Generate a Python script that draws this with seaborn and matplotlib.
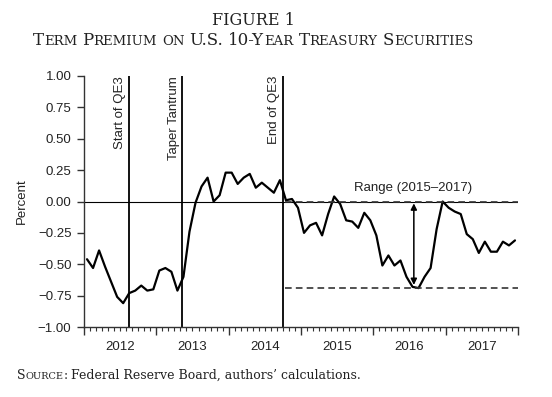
import numpy as np
import pandas as pd
import matplotlib
matplotlib.use('Agg')
import matplotlib.pyplot as plt
import seaborn as sns

# Monthly term premium, Jan 2012 - Dec 2017 (percent)
years = [2012, 2013, 2014, 2015, 2016, 2017]
premium = [
    -0.46, -0.53, -0.39, -0.52, -0.64, -0.76, -0.81, -0.73, -0.71, -0.67, -0.71, -0.70,
    -0.55, -0.53, -0.56, -0.71, -0.60, -0.24, -0.01, 0.12, 0.19, 0.00, 0.05, 0.23,
    0.23, 0.14, 0.19, 0.22, 0.11, 0.15, 0.11, 0.07, 0.17, 0.01, 0.02, -0.05,
    -0.25, -0.19, -0.17, -0.27, -0.10, 0.04, -0.02, -0.15, -0.16, -0.21, -0.09, -0.15,
    -0.27, -0.51, -0.43, -0.51, -0.47, -0.60, -0.68, -0.69, -0.60, -0.53, -0.22, 0.00,
    -0.05, -0.08, -0.10, -0.26, -0.30, -0.41, -0.32, -0.40, -0.40, -0.32, -0.35, -0.31,
]
events = ['Start of QE3', 'Taper Tantrum', 'End of QE3']
event_dates = [2012.62, 2013.36, 2014.75]
range_top = 0.0
range_bottom = -0.69
range_start = 2014.78
range_label = 'Range (2015\u20132017)'
yticks = [1.0, 0.75, 0.5, 0.25, 0.0, -0.25, -0.5, -0.75, -1.0]
ytick_labels = ['1.00', '0.75', '0.50', '0.25', '0.00',
                '\u22120.25', '\u22120.50', '\u22120.75', '\u22121.00']

df = pd.DataFrame({'date': years[0] + (np.arange(len(premium)) + 0.5) / 12,
                   'premium': premium})

W, H, DPI = 552, 397, 100
SERIF = 'DejaVu Serif'

sns.set_style('ticks')
plt.rcParams['font.family'] = ['Liberation Sans', 'DejaVu Sans']


def sc_runs(text, big, small):
    # fake small caps: lowercase letters become smaller capitals
    runs = []
    for ch in text:
        if ch == ' ':
            kind, size = 'sp', big
        elif ch.islower():
            kind, size = 'sm', small
        else:
            kind, size = 'bg', big
        if runs and runs[-1][2] == kind and kind != 'sp':
            runs[-1][0] += ch.upper()
        else:
            runs.append([ch.upper() if kind != 'sp' else ' ', size, kind])
    return runs


def place_runs(fig, runs, x_px, y_px, ha='center'):
    r = fig.canvas.get_renderer()
    items = []
    for s, size, kind in runs:
        if kind == 'sp':
            items.append((None, size * DPI / 72 * 0.3))
        else:
            t = fig.text(0, 0, s, fontsize=size, family=SERIF, va='baseline',
                         ha='left', color='#222222')
            items.append((t, t.get_window_extent(r).width))
    total = sum(w for _, w in items)
    x = x_px - total / 2 if ha == 'center' else x_px
    for t, w in items:
        if t is not None:
            t.set_position((x / W, 1 - y_px / H))
        x += w


fig = plt.figure(figsize=(W / DPI, H / DPI), dpi=DPI)
ax = fig.add_axes([84 / W, 1 - 327 / H, 434 / W, 251 / H])

sns.lineplot(data=df, x='date', y='premium', ax=ax, color='black', lw=1.6)

ax.axhline(0, color='black', lw=0.8, zorder=1)
for name, d in zip(events, event_dates):
    ax.axvline(d, color='black', lw=1.3)
    ax.annotate(name, xy=(d, 1.0), xycoords=('data', 'axes fraction'),
                xytext=(-2, 0), textcoords='offset points',
                rotation=90, ha='right', va='top', fontsize=9.5, color='#222222')

ax.hlines([range_top, range_bottom], range_start, 2018.0, colors='#333333',
          linestyles=(0, (4, 2.5)), lw=1.2)
ax.annotate('', xy=(2016.56, -0.665), xytext=(2016.56, -0.015),
            arrowprops=dict(arrowstyle='<|-|>', color='black', lw=1.1,
                            mutation_scale=9, shrinkA=0, shrinkB=0))
ax.text(2016.55, 0.11, range_label, ha='center', va='center', fontsize=9.5,
        color='#222222')

ax.set_xlim(2012, 2018)
ax.set_ylim(-1, 1)
ax.set_yticks(yticks, ytick_labels)
ax.set_xticks(np.arange(2012, 2019), [''] * 7)
months = np.arange(2012, 2018, 1 / 12)
mlabels = [str(int(m)) if abs(m - int(m) - 0.5) < 1e-6 else '' for m in months]
ax.set_xticks(months, mlabels, minor=True)
ax.tick_params(axis='x', which='major', length=6, width=1.0, color='#333333')
ax.tick_params(axis='x', which='minor', length=3, width=0.8, color='#333333',
               pad=7, labelsize=9.5, labelcolor='#222222')
ax.tick_params(axis='y', length=5, width=1.0, color='#333333', pad=4,
               labelsize=9.5, labelcolor='#222222')
ax.set_xlabel('')
ax.set_ylabel('Percent', fontsize=9.5, color='#222222', labelpad=7)
sns.despine(ax=ax)
for s in ['left', 'bottom']:
    ax.spines[s].set_linewidth(1.0)
    ax.spines[s].set_color('#333333')

place_runs(fig, [['FIGURE 1', 11.5, 'bg']], 253, 25)
place_runs(fig, sc_runs('Term Premium on U.S. 10-Year Treasury Securities', 12, 9.5),
           253, 45)
src = sc_runs('Source:', 9, 7) + [[' ', 9, 'sp'],
                                  ['Federal Reserve Board, authors\u2019 calculations.', 9, 'bg']]
place_runs(fig, src, 17, 379, ha='left')

fig.savefig('out.png', dpi=DPI, facecolor='white')
